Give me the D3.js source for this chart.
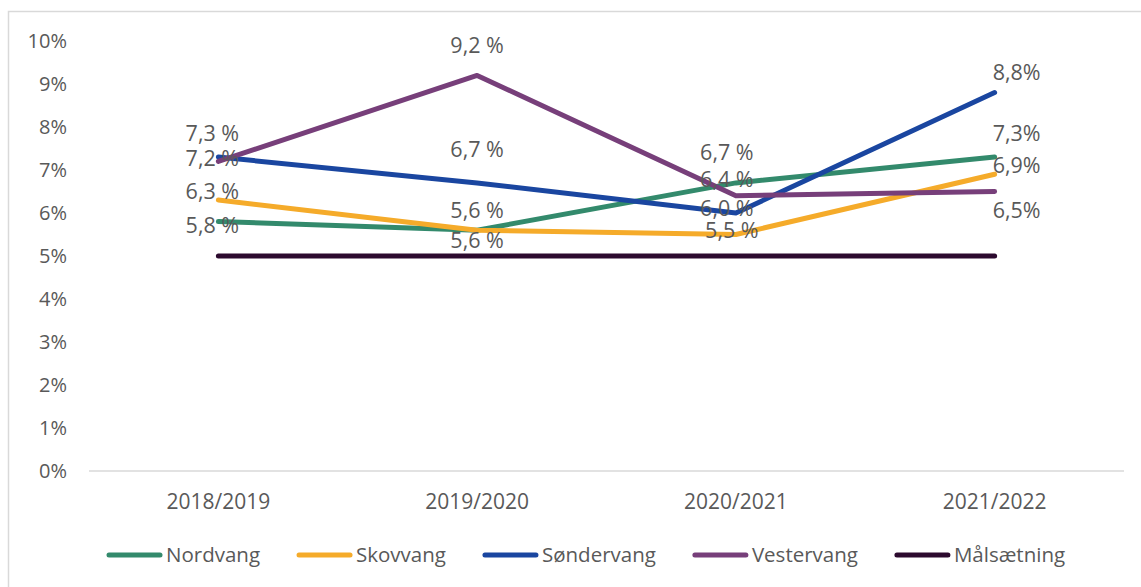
<!DOCTYPE html>
<html>
<head>
<meta charset="utf-8">
<script src="https://cdn.jsdelivr.net/npm/d3@7"></script>
<style>
  body { margin: 0; background: #fff; }
  text { font-family: "Open Sans", sans-serif; fill: #595959; }
</style>
</head>
<body>
<div id="vis"></div>
<script>
// school years
const years = ["2018/2019", "2019/2020", "2020/2021", "2021/2022"];

// absence share in percent
const nordvang   = [5.8, 5.6, 6.7, 7.3];
const skovvang   = [6.3, 5.6, 5.5, 6.9];
const sondervang = [7.3, 6.7, 6.0, 8.8];
const vestervang = [7.2, 9.2, 6.4, 6.5];
const maal       = [5, 5, 5, 5];

const seriesNames = ["Nordvang", "Skovvang", "Søndervang", "Vestervang", "Målsætning"];
const yTicks = [0, 1, 2, 3, 4, 5, 6, 7, 8, 9, 10];

const colors = ["#338a6c", "#f5ab2a", "#1a46a0", "#773f7a", "#2c0a2e"];

// where excel dropped the labels, relative to the point [dx, dy]
const labelNudges = [
  [[-6, 4], [0, 10], [-9, -30], [22, -24]],
  [[-6, -9], [0, -20], [-4, -4], [22, -9]],
  [[-6, -24], [0, -33], [-9, -5], [22, -20]],
  [[-6, -3], [0, -30], [-9, -16], [22, 19]],
  null
];

const width = 1141;
const height = 587;

const series = [nordvang, skovvang, sondervang, vestervang, maal].map((v, i) => ({
  name: seriesNames[i],
  values: v,
  color: colors[i],
  nudge: labelNudges[i]
}));

const svg = d3.select("#vis")
  .append("svg")
  .attr("width", width)
  .attr("height", height);

// frame (only top and left fit in the picture)
svg.append("rect")
  .attr("x", 8.5).attr("y", 11.5)
  .attr("width", width).attr("height", height)
  .attr("fill", "none")
  .attr("stroke", "#d9d9d9")
  .attr("stroke-width", 1.5);

const x = d3.scaleBand()
  .domain(years)
  .range([89, 1124]);

const y = d3.scaleLinear()
  .domain([0, 10])
  .range([471, 41]);

const cx = d => x(d) + x.bandwidth() / 2;

// y tick labels
svg.append("g")
  .selectAll("text")
  .data(yTicks)
  .join("text")
    .attr("x", 67)
    .attr("y", d => y(d))
    .attr("dy", "0.35em")
    .attr("text-anchor", "end")
    .style("font-size", "20px")
    .text(d => d + "%");

// baseline
svg.append("line")
  .attr("x1", 89).attr("x2", 1124)
  .attr("y1", y(0)).attr("y2", y(0))
  .attr("stroke", "#d9d9d9")
  .attr("stroke-width", 1.5);

svg.append("g")
  .selectAll("text")
  .data(years)
  .join("text")
    .attr("x", d => cx(d))
    .attr("y", 502)
    .attr("dy", "0.35em")
    .attr("text-anchor", "middle")
    .style("font-size", "21px")
    .text(d => d);

const line = d3.line()
  .x((d, i) => cx(years[i]))
  .y(d => y(d));

svg.append("g")
  .attr("fill", "none")
  .selectAll("path")
  .data(series)
  .join("path")
    .attr("d", d => line(d.values))
    .attr("stroke", d => d.color)
    .attr("stroke-width", 5)
    .attr("stroke-linecap", "round")
    .attr("stroke-linejoin", "round");

// data labels
const fmt = (v, i) => d3.format(".1f")(v).replace(".", ",") + (i < 3 ? " %" : "%");

series.filter(s => s.nudge).forEach(s => {
  svg.append("g")
    .selectAll("text")
    .data(s.values)
    .join("text")
      .attr("x", (d, i) => cx(years[i]) + s.nudge[i][0])
      .attr("y", (d, i) => y(d) + s.nudge[i][1])
      .attr("dy", "0.35em")
      .attr("text-anchor", "middle")
      .style("font-size", "21.5px")
      .text((d, i) => fmt(d, i));
});

// legend
const legend = svg.append("g");
let lx = 109;
series.forEach(s => {
  legend.append("line")
    .attr("x1", lx).attr("x2", lx + 51)
    .attr("y1", 555).attr("y2", 555)
    .attr("stroke", s.color)
    .attr("stroke-width", 5)
    .attr("stroke-linecap", "round");
  const t = legend.append("text")
    .attr("x", lx + 57)
    .attr("y", 555)
    .attr("dy", "0.35em")
    .style("font-size", "20.5px")
    .text(s.name);
  lx += 57 + t.node().getComputedTextLength() + 39;
});
</script>
</body>
</html>
